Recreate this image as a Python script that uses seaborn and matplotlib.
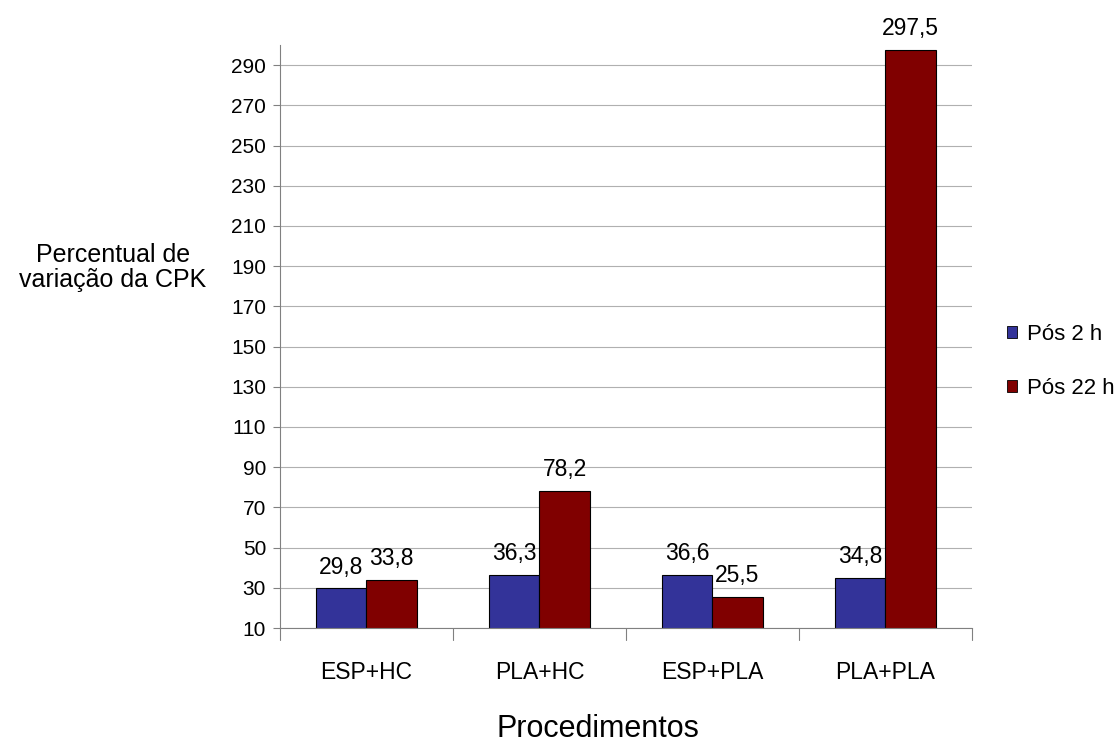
import numpy as np
import pandas as pd
import matplotlib.pyplot as plt
import seaborn as sns
from matplotlib.patches import Patch

procedimentos = ["ESP+HC", "PLA+HC", "ESP+PLA", "PLA+PLA"]
pos_2h = [29.8, 36.3, 36.6, 34.8]
pos_22h = [33.8, 78.2, 25.5, 297.5]
series = ["Pós 2 h", "Pós 22 h"]
colors = ["#333399", "#800000"]
yticks = list(range(10, 300, 20))

df = pd.DataFrame({
    "Procedimentos": procedimentos * 2,
    "valor": pos_2h + pos_22h,
    "serie": [series[0]] * 4 + [series[1]] * 4,
})

sns.set_style("white")
plt.rcParams["font.family"] = ["Liberation Sans", "DejaVu Sans"]
plt.rcParams["text.color"] = "black"
plt.rcParams["xtick.color"] = "black"
plt.rcParams["ytick.color"] = "black"
plt.rcParams["axes.labelcolor"] = "black"

fig = plt.figure(figsize=(11.19, 7.45), dpi=100)
ax = fig.add_axes([0.2502, 0.157, 0.6184, 0.7826])

sns.barplot(data=df, x="Procedimentos", y="valor", hue="serie",
            palette=colors, saturation=1, width=0.58, edgecolor="black",
            linewidth=0.8, ax=ax, legend=False)

for cont in ax.containers:
    for bar in cont:
        h = bar.get_height()
        ax.annotate(f"{h:.1f}".replace(".", ","),
                    (bar.get_x() + bar.get_width() / 2, h),
                    xytext=(0, 7), textcoords="offset points",
                    ha="center", va="bottom", fontsize=16.5)

ax.set_ylim(10, 300)
ax.set_xlim(-0.5, 3.5)
ax.set_yticks(yticks)
ax.set_yticklabels([str(t) for t in yticks], fontsize=15)
ax.yaxis.grid(True, color="#b0b0b0", linewidth=0.8)
ax.set_axisbelow(True)

ax.set_xticks(np.arange(4))
ax.set_xticklabels(procedimentos, fontsize=16.5)
ax.tick_params(axis="x", length=0, pad=24)
for xb in np.arange(-0.5, 4, 1):
    ax.plot([xb, xb], [0, -0.02], transform=ax.get_xaxis_transform(),
            color="#808080", lw=0.8, clip_on=False)
ax.tick_params(axis="y", left=True, length=5, color="#808080", pad=5)

for s in ["top", "right"]:
    ax.spines[s].set_visible(False)
for s in ["left", "bottom"]:
    ax.spines[s].set_color("#808080")

ax.set_xlabel("")
ax.set_ylabel("")
fig.text(0.5346, 0.001, "Procedimentos", ha="center", va="bottom", fontsize=22)
fig.text(0.101, 0.641, "Percentual de\nvariação da CPK", ha="center", va="center",
         fontsize=18, linespacing=1.05)

handles = [Patch(facecolor=c, edgecolor="black", linewidth=0.6) for c in colors]
fig.legend(handles, series, loc="center left", bbox_to_anchor=(0.9, 0.515),
           frameon=False, fontsize=16, handlelength=0.45, handleheight=0.45,
           handletextpad=0.45, labelspacing=1.5, borderpad=0, borderaxespad=0)

fig.savefig("out.png", dpi=100)
